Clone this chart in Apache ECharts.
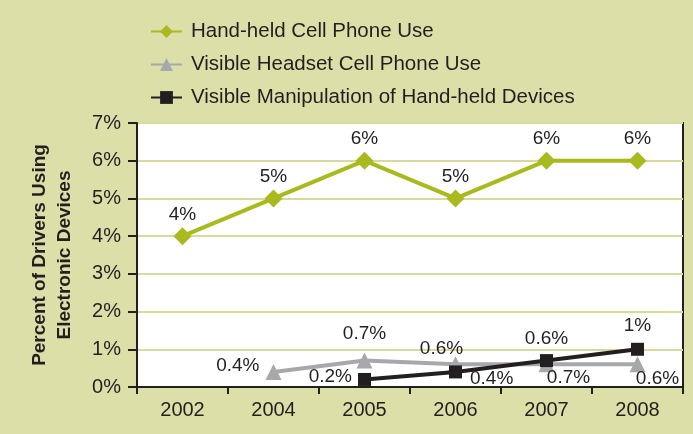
<!DOCTYPE html>
<html>
<head>
<meta charset="utf-8">
<script src="https://cdn.jsdelivr.net/npm/echarts@6/dist/echarts.min.js"></script>
<style>
html,body{margin:0;padding:0;background:#dcdfa8;}
#c{width:693px;height:434px;}
</style>
</head>
<body>
<div id="c"></div>
<script>
const years = ['2002', '2004', '2005', '2006', '2007', '2008'];
const handHeld = [4, 5, 6, 5, 6, 6];
const headset = [null, 0.4, 0.7, 0.6, 0.6, 0.6];
const manipulation = [null, null, 0.2, 0.4, 0.7, 1];
const yTicks = ['0%', '1%', '2%', '3%', '4%', '5%', '6%', '7%'];

const FONT = "'Liberation Sans Narrow', 'Liberation Sans', sans-serif";

// label placement (style only)
const headsetLabel = [null,
  { position: 'left', offset: [0, -6] },
  { position: 'top', offset: [0, -3] },
  { position: 'top', offset: [-14, 8] },
  { position: 'top', offset: [0, -2] },
  { position: 'bottom', offset: [20, -9] }];
const manipLabel = [null, null,
  { position: 'left', offset: [0, -3] },
  { position: 'right', offset: [2, 7] },
  { position: 'bottom', offset: [22, -5] },
  { position: 'top', offset: [0, -2] }];

function build(vals, lab, def) {
  return vals.map((v, i) => {
    if (v === null) return null;
    const l = lab ? lab[i] : def;
    return { value: v, label: l };
  });
}

const labelBase = {
  show: true,
  formatter: p => p.value + '%',
  fontFamily: FONT,
  fontSize: 19,
  color: '#231f20',
  distance: 6
};

const chart = echarts.init(document.getElementById('c'), null, { renderer: 'canvas' });
chart.setOption({
  backgroundColor: '#dcdfa8',
  animation: false,
  textStyle: { fontFamily: FONT },
  legend: {
    orient: 'vertical',
    left: 145,
    top: 16,
    itemGap: 12,
    itemWidth: 31,
    itemHeight: 16,
    textStyle: { fontFamily: FONT, fontSize: 20.5, color: '#231f20', padding: [0, 0, 0, 4] },
    data: ['Hand-held Cell Phone Use', 'Visible Headset Cell Phone Use', 'Visible Manipulation of Hand-held Devices']
  },
  grid: {
    left: 137, right: 10, top: 123, bottom: 47,
    show: true, backgroundColor: '#ffffff', borderColor: '#231f20', borderWidth: 2
  },
  xAxis: {
    type: 'category',
    data: years,
    boundaryGap: true,
    axisLine: { lineStyle: { color: '#231f20', width: 2 } },
    axisTick: { show: true, length: 7, lineStyle: { color: '#231f20', width: 2 } },
    axisLabel: { fontFamily: FONT, fontSize: 20, color: '#231f20', margin: 13 }
  },
  yAxis: {
    type: 'value',
    min: 0, max: 7, interval: 1,
    name: 'Percent of Drivers Using\nElectronic Devices',
    nameLocation: 'middle',
    nameRotate: 90,
    nameGap: 60,
    nameTextStyle: { fontFamily: FONT, fontSize: 19, fontWeight: 'bold', color: '#231f20', lineHeight: 25 },
    axisLine: { show: true, lineStyle: { color: '#231f20', width: 2 } },
    axisTick: { show: true, length: 9, lineStyle: { color: '#231f20', width: 2 } },
    axisLabel: { fontFamily: FONT, fontSize: 20, color: '#231f20', margin: 16, formatter: v => yTicks[v] },
    splitLine: { show: true, lineStyle: { color: '#d6da9c', width: 2 } }
  },
  series: [
    {
      name: 'Hand-held Cell Phone Use',
      type: 'line',
      data: build(handHeld, null, { position: 'top' }),
      symbol: 'diamond', symbolSize: 18,
      lineStyle: { color: '#a9b91e', width: 4 },
      itemStyle: { color: '#a9b91e' },
      label: Object.assign({}, labelBase, { distance: 3 }),
      z: 3
    },
    {
      name: 'Visible Headset Cell Phone Use',
      type: 'line',
      data: build(headset, headsetLabel),
      symbol: 'triangle', symbolSize: 16,
      lineStyle: { color: '#a6a8ab', width: 4 },
      itemStyle: { color: '#a6a8ab' },
      label: labelBase,
      z: 2
    },
    {
      name: 'Visible Manipulation of Hand-held Devices',
      type: 'line',
      data: build(manipulation, manipLabel),
      symbol: 'rect', symbolSize: 13,
      lineStyle: { color: '#231f20', width: 4 },
      itemStyle: { color: '#231f20' },
      label: labelBase,
      z: 4
    }
  ]
});
</script>
</body>
</html>
